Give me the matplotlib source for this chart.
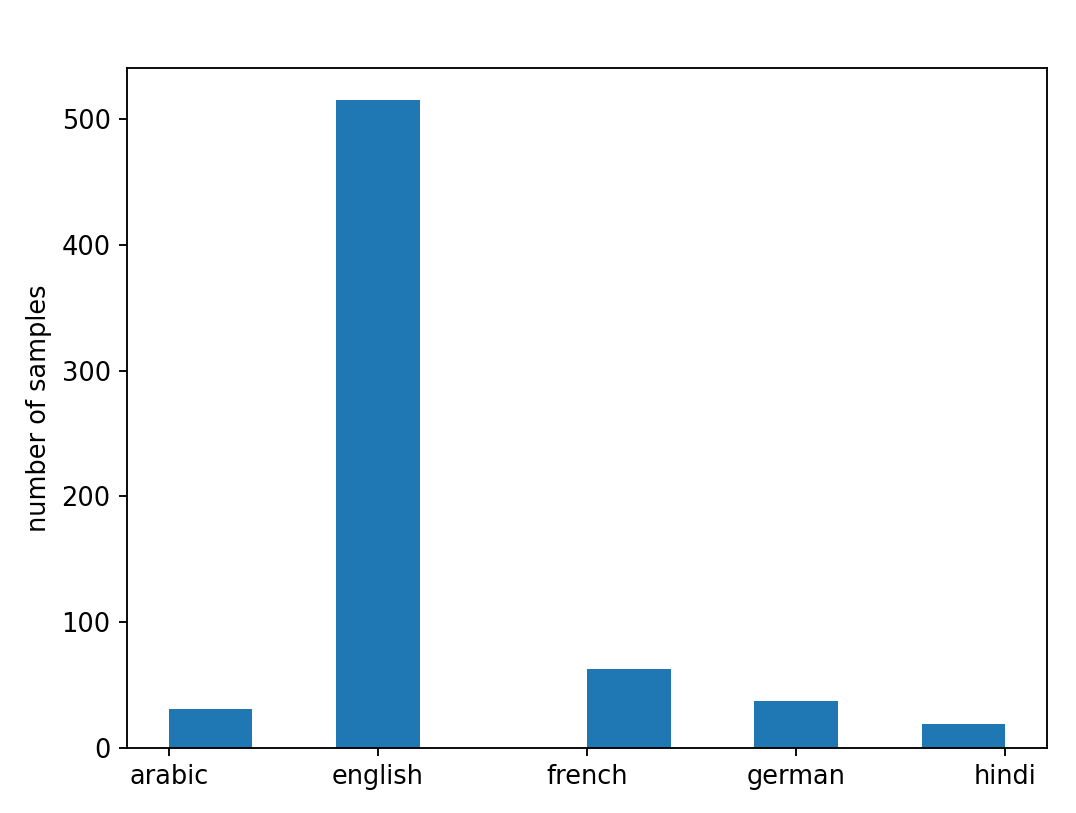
import matplotlib
matplotlib.use("Agg")
import matplotlib.pyplot as plt
import numpy as np

categories = ["arabic", "english", "french", "german", "hindi"]
counts = [31, 515, 63, 37, 19]
ylabel = "number of samples"

positions = np.arange(len(categories))

plt.rcParams["font.size"] = 11
fig = plt.figure(figsize=(1076 / 168, 813 / 168), dpi=168)
ax = fig.add_axes([127 / 1076, 1 - 748 / 813, (1047 - 127) / 1076, (748 - 68) / 813])
ax.hist(positions, bins=10, weights=counts, color="#1f77b4")
ax.set_xticks(positions)
ax.set_xticklabels(categories)
ax.set_ylabel(ylabel)
fig.savefig("out.png", dpi=168)
